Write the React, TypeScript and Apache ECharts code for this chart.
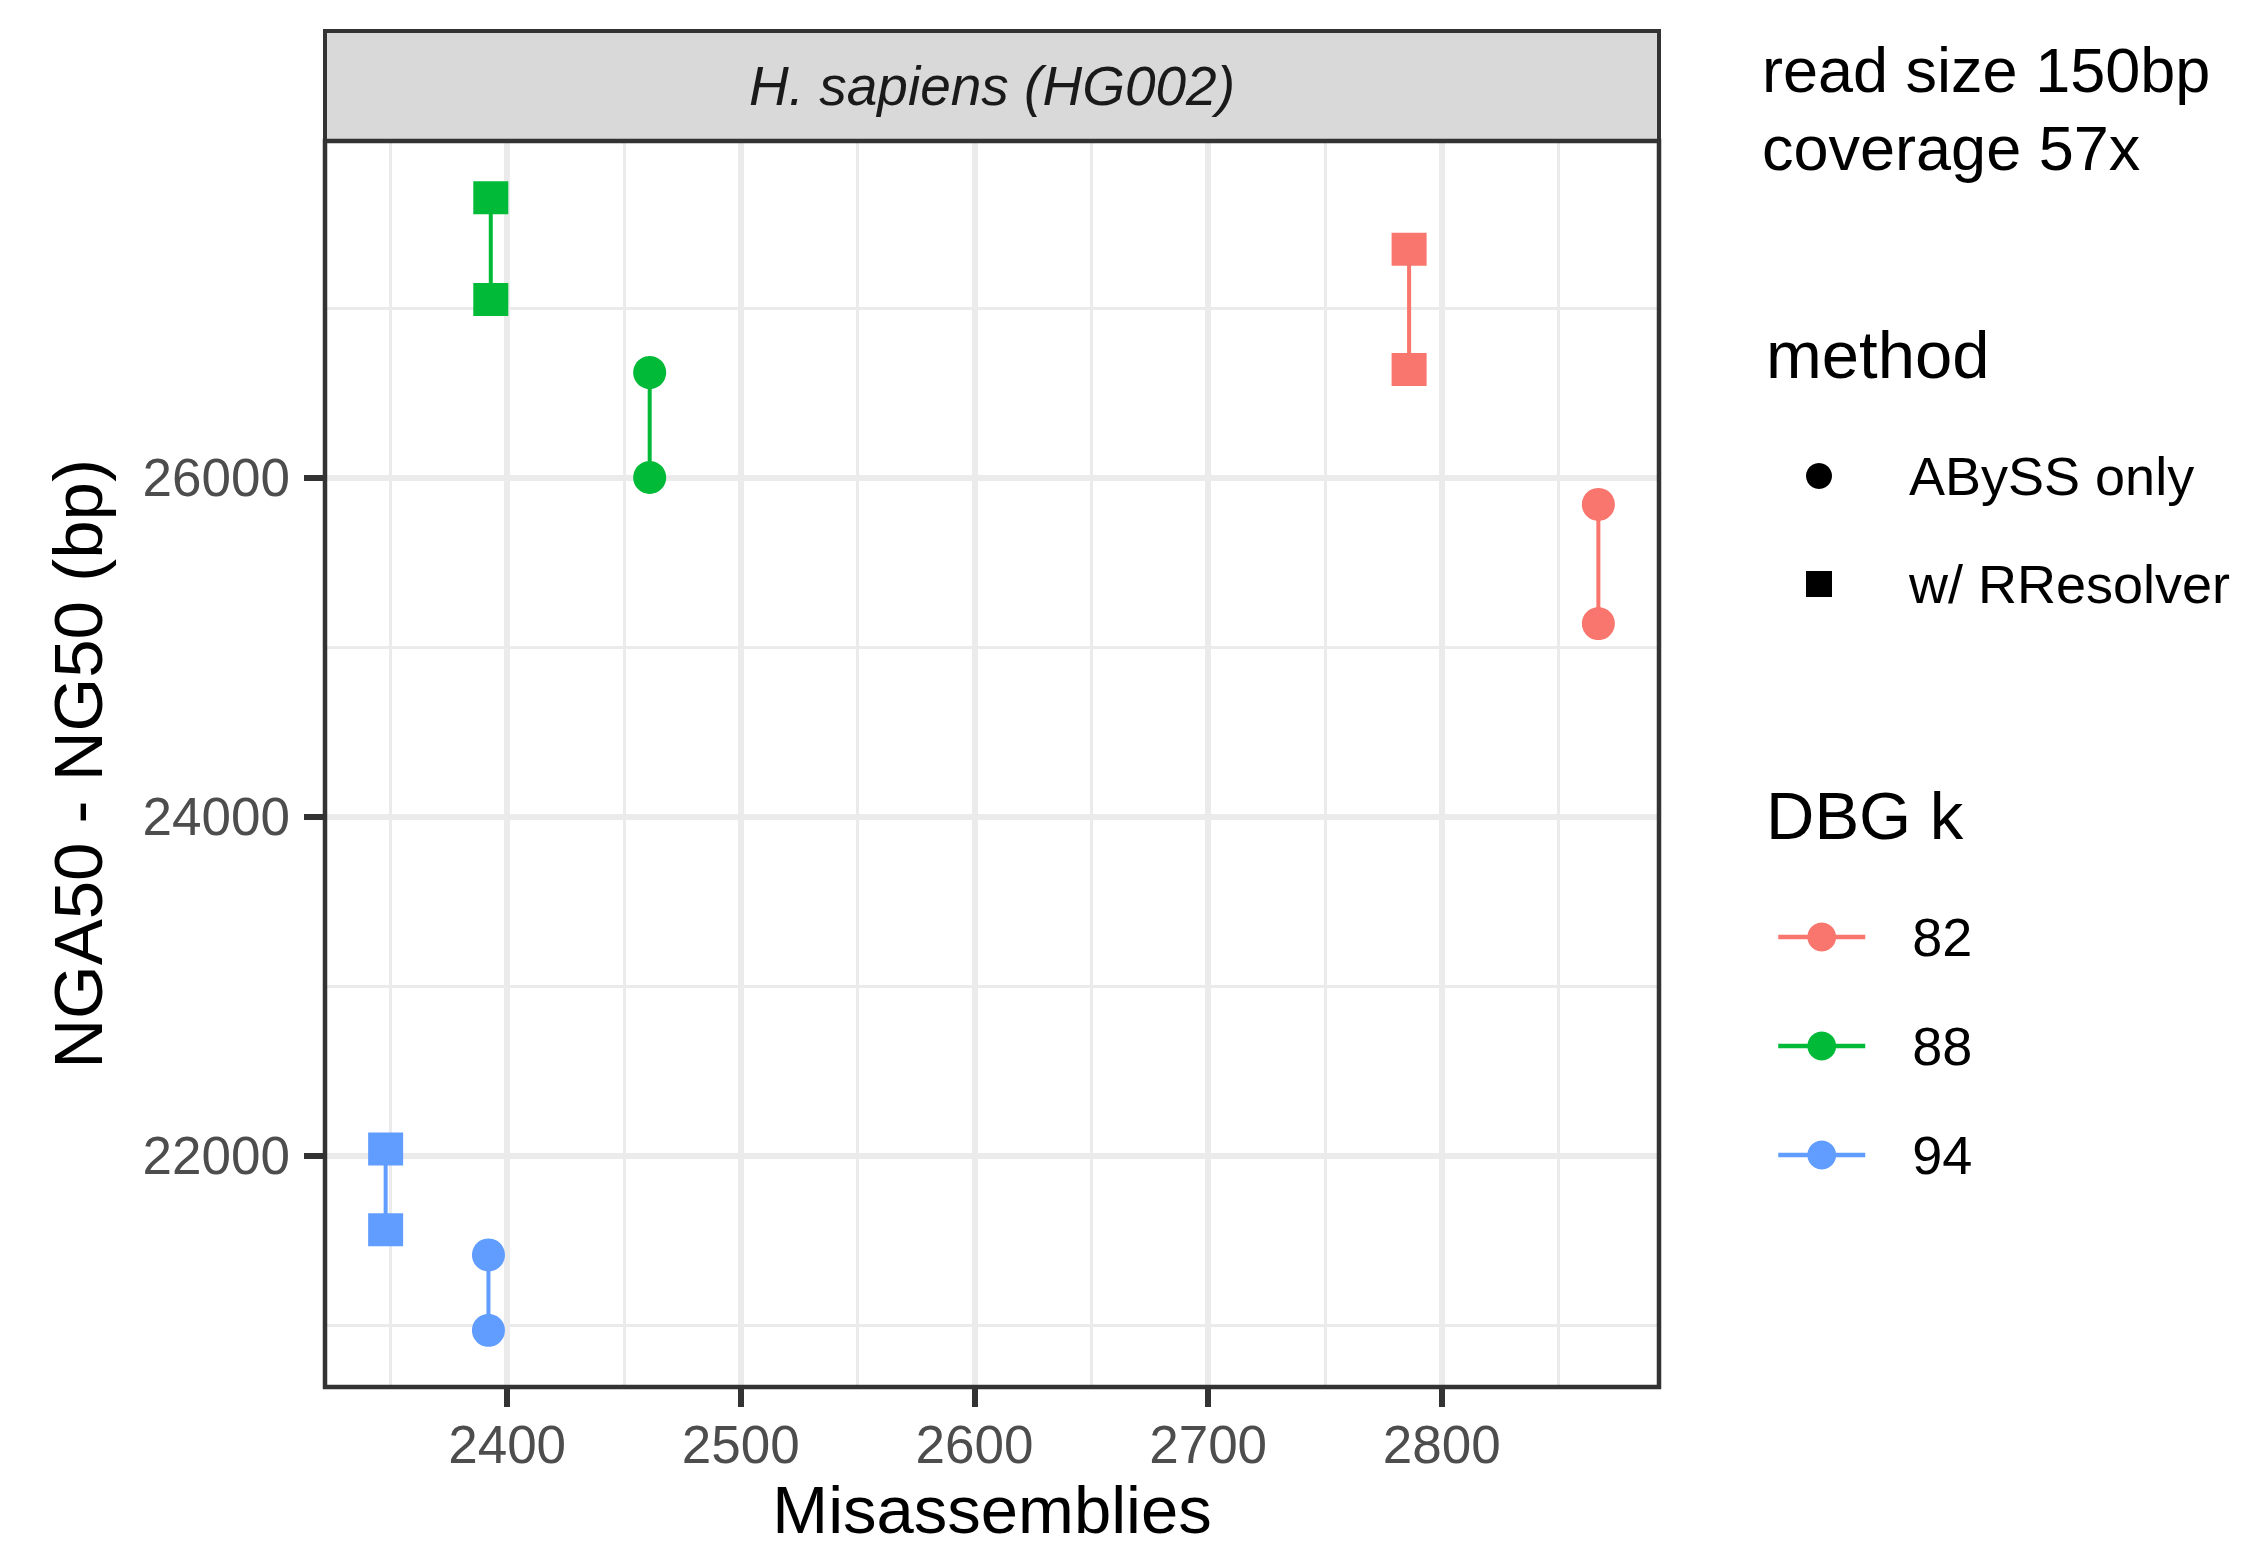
import React, { useEffect, useRef } from "react";
import * as echarts from "echarts";

// ---- data ----
const kLevels = ["82", "88", "94"];
const kColors = ["#F8766D", "#00BA38", "#619CFF"];
const methods = ["ABySS only", "w/ RResolver"];
const methodSymbols = ["circle", "rect"];

// misassemblies for each k
const misAbyss = [2867, 2461, 2392];
const misRResolver = [2786, 2393, 2348];
// NGA50 (lower end) and NG50 (upper end), bp
const nga50Abyss = [25138, 26000, 20970];
const ng50Abyss = [25841, 26619, 21415];
const nga50RResolver = [26636, 27049, 21564];
const ng50RResolver = [27345, 27650, 22039];

// axis ticks / grid
const xTicks = [2400, 2500, 2600, 2700, 2800];
const xMinor = [2350, 2450, 2550, 2650, 2750, 2850];
const yTicks = [22000, 24000, 26000];
const yMinor = [21000, 23000, 25000, 27000];

const stripLabel = "H. sapiens (HG002)";
const noteLines = ["read size 150bp", "coverage 57x"];
const xTitle = "Misassemblies";
const yTitle = "NGA50 - NG50 (bp)";
const methodTitle = "method";
const kTitle = "DBG k";

const FONT = "'Liberation Sans', Arial, Helvetica, sans-serif";

function expand(vals: number[]): [number, number] {
  const lo = Math.min(...vals);
  const hi = Math.max(...vals);
  const pad = (hi - lo) * 0.05;
  return [lo - pad, hi + pad];
}

export default function App() {
  const ref = useRef<HTMLDivElement>(null);

  useEffect(() => {
    if (!ref.current) return;
    const chart = echarts.init(ref.current, undefined, { renderer: "svg" });

    const [xMin, xMax] = expand([...misAbyss, ...misRResolver]);
    const [yMin, yMax] = expand([...nga50Abyss, ...ng50Abyss, ...nga50RResolver, ...ng50RResolver]);

    const GRID = { left: 325, top: 141, width: 1334, height: 1246 };

    const majorStyle = { color: "#EBEBEB", width: 6, type: "solid" };
    const minorStyle = { color: "#EBEBEB", width: 3, type: "solid" };

    const gridSeries: any = {
      type: "line",
      name: "__grid",
      data: [],
      silent: true,
      z: 1,
      markLine: {
        z: 1,
        silent: true,
        symbol: ["none", "none"],
        label: { show: false },
        emphasis: { disabled: true },
        data: [
          ...xMinor.map((v) => ({ xAxis: v, lineStyle: minorStyle })),
          ...yMinor.map((v) => ({ yAxis: v, lineStyle: minorStyle })),
          ...xTicks.map((v) => ({ xAxis: v, lineStyle: majorStyle })),
          ...yTicks.map((v) => ({ yAxis: v, lineStyle: majorStyle })),
        ],
      },
    };

    const dataSeries: any[] = [];
    const methodData = [
      { mis: misAbyss, lo: nga50Abyss, hi: ng50Abyss },
      { mis: misRResolver, lo: nga50RResolver, hi: ng50RResolver },
    ];
    methodData.forEach((md, m) => {
      kLevels.forEach((k, i) => {
        dataSeries.push({
          type: "line",
          name: k,
          data: [
            [md.mis[i], md.lo[i]],
            [md.mis[i], md.hi[i]],
          ],
          symbol: methodSymbols[m],
          symbolSize: m === 0 ? 33 : [35, 33],
          showSymbol: true,
          color: kColors[i],
          lineStyle: { color: kColors[i], width: 4 },
          itemStyle: { color: kColors[i], borderWidth: 0 },
          silent: true,
          emphasis: { disabled: true },
          z: 3,
        });
      });
    });

    const methodDummies = methods.map((name, m) => ({
      type: "scatter",
      name,
      data: [],
      symbol: methodSymbols[m],
      color: "#000000",
      itemStyle: { color: "#000000", opacity: 1 },
    }));

    const legendText = {
      fontSize: 54,
      lineHeight: 54,
      color: "#000000",
      fontFamily: FONT,
    };

    const option: any = {
      animation: false,
      backgroundColor: "#FFFFFF",
      grid: { ...GRID, show: false, containLabel: false, outerBoundsMode: "none" },
      xAxis: {
        type: "value",
        min: xMin,
        max: xMax,
        splitLine: { show: false },
        minorSplitLine: { show: false },
        axisLine: { show: false },
        axisTick: {
          show: true,
          customValues: xTicks,
          length: 20,
          lineStyle: { color: "#333333", width: 6 },
        },
        axisLabel: {
          customValues: xTicks,
          formatter: (v: number) => String(v),
          fontSize: 53,
          lineHeight: 53,
          color: "#4D4D4D",
          fontFamily: FONT,
          margin: 31,
        },
        name: xTitle,
        nameLocation: "middle",
        nameGap: 94,
        nameTextStyle: { fontSize: 67, lineHeight: 56, color: "#000000", fontFamily: FONT },
      },
      yAxis: {
        type: "value",
        min: yMin,
        max: yMax,
        splitLine: { show: false },
        minorSplitLine: { show: false },
        axisLine: { show: false },
        axisTick: {
          show: true,
          customValues: yTicks,
          length: 21,
          lineStyle: { color: "#333333", width: 6 },
        },
        axisLabel: {
          customValues: yTicks,
          formatter: (v: number) => String(v),
          fontSize: 53,
          lineHeight: 53,
          color: "#4D4D4D",
          fontFamily: FONT,
          margin: 35,
        },
        name: yTitle,
        nameLocation: "middle",
        nameGap: 212,
        nameTextStyle: { fontSize: 69, lineHeight: 69, color: "#000000", fontFamily: FONT },
      },
      legend: [
        {
          orient: "vertical",
          left: 1806,
          top: 449,
          padding: 0,
          itemWidth: 26,
          itemHeight: 26,
          itemGap: 54,
          selectedMode: false,
          data: [
            { name: methods[0], icon: "circle", itemStyle: { color: "#000000", opacity: 1 } },
            { name: methods[1], icon: "rect", itemStyle: { color: "#000000", opacity: 1 } },
          ],
          textStyle: { ...legendText, padding: [0, 0, 0, 72] },
        },
        {
          orient: "vertical",
          left: 1776,
          top: 910,
          padding: 0,
          itemWidth: 87,
          itemHeight: 36,
          itemGap: 55,
          selectedMode: false,
          data: kLevels,
          lineStyle: { width: 4.5 },
          textStyle: { ...legendText, padding: [0, 0, 0, 42] },
        },
      ],
      graphic: [
        {
          type: "rect",
          z: 50,
          shape: { x: 325, y: 31, width: 1334, height: 110 },
          style: { fill: "#D9D9D9", stroke: "#333333", lineWidth: 4 },
        },
        {
          type: "text",
          z: 51,
          x: 992,
          y: 86,
          style: {
            text: stripLabel,
            font: `italic 55px ${FONT}`,
            fill: "#1A1A1A",
            textAlign: "center",
            textVerticalAlign: "middle",
          },
        },
        {
          type: "rect",
          z: 50,
          shape: { x: GRID.left, y: GRID.top, width: GRID.width, height: GRID.height },
          style: { fill: "none", stroke: "#333333", lineWidth: 4.5 },
        },
        {
          type: "text",
          x: 1762,
          y: 70,
          style: { text: noteLines[0], font: `63px ${FONT}`, fill: "#000000", textVerticalAlign: "middle" },
        },
        {
          type: "text",
          x: 1762,
          y: 148,
          style: { text: noteLines[1], font: `63px ${FONT}`, fill: "#000000", textVerticalAlign: "middle" },
        },
        {
          type: "text",
          x: 1766,
          y: 354,
          style: { text: methodTitle, font: `67px ${FONT}`, fill: "#000000", textVerticalAlign: "middle" },
        },
        {
          type: "text",
          x: 1766,
          y: 815,
          style: { text: kTitle, font: `67px ${FONT}`, fill: "#000000", textVerticalAlign: "middle" },
        },
      ],
      series: [gridSeries, ...dataSeries, ...methodDummies],
    };

    chart.setOption(option);
    return () => {
      chart.dispose();
    };
  }, []);

  return (
    <div
      ref={ref}
      style={{ position: "fixed", left: 0, top: 0, width: 2246, height: 1549, background: "#FFFFFF" }}
    />
  );
}
